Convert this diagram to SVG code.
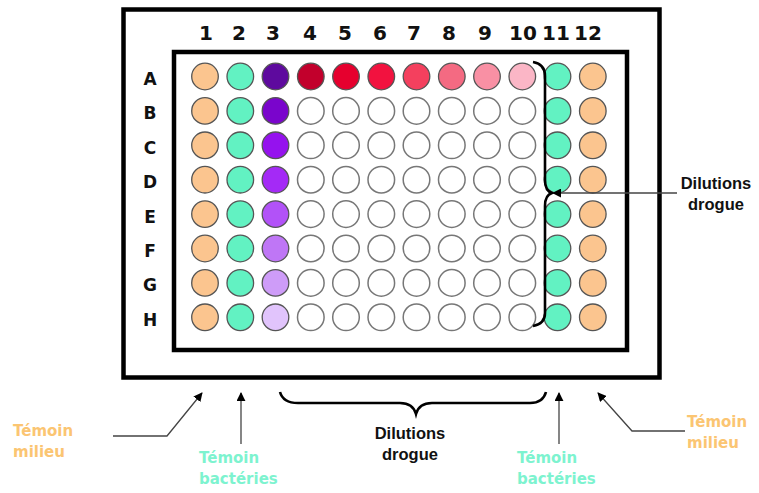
<svg xmlns="http://www.w3.org/2000/svg" width="759" height="493" viewBox="0 0 759 493">
<style>
.frame{fill:none;stroke:#000;stroke-width:4.5}
.lbl{font-family:"DejaVu Sans",Verdana,sans-serif;font-weight:bold;fill:#111;text-anchor:middle}
.num{font-size:20px}
.row{font-size:17px}
.w{stroke:#555;stroke-width:1.3}
.e{fill:#fff;stroke:#777;stroke-width:1.5}
.m{fill:#FBC58F}
.b{fill:#62F2C2}
.ann{font-family:"Liberation Sans",Arial,sans-serif;font-weight:bold;font-size:16.5px;fill:#111;text-anchor:middle}
.tm{font-family:"DejaVu Sans",Verdana,sans-serif;font-weight:bold;font-size:15px;fill:#FBC572}
.tb{font-family:"DejaVu Sans",Verdana,sans-serif;font-weight:bold;font-size:15px;fill:#7DF3CF}
.ln{fill:none;stroke:#444;stroke-width:1.3}
.br{fill:none;stroke:#000;stroke-width:2.6}
</style>
<defs>
<marker id="ah" viewBox="0 0 10 10" refX="9" refY="5" markerWidth="9" markerHeight="9" markerUnits="userSpaceOnUse" orient="auto">
<path d="M0,0 L10,5 L0,10 z" fill="#000"/>
</marker>
</defs>
<g id="plate">
<rect class="frame" x="123.5" y="9.5" width="536" height="368"/>
<rect class="frame" x="174" y="52" width="453" height="298"/>
</g>
<g id="col-labels" class="lbl num">
<text x="206" y="40">1</text><text x="239" y="40">2</text><text x="273" y="40">3</text><text x="310" y="40">4</text><text x="345" y="40">5</text><text x="380" y="40">6</text><text x="414" y="40">7</text><text x="449" y="40">8</text><text x="485" y="40">9</text><text x="523" y="40">10</text><text x="556" y="40">11</text><text x="588" y="40">12</text>
</g>
<g id="row-labels" class="lbl row">
<text x="150" y="85">A</text><text x="150" y="119.4">B</text><text x="150" y="153.8">C</text><text x="150" y="188.2">D</text><text x="150" y="222.6">E</text><text x="150" y="257">F</text><text x="150" y="291.4">G</text><text x="150" y="325.8">H</text>
</g>
<g id="col1-medium">
<circle class="w m" cx="205" cy="76.5" r="13.3"/><circle class="w m" cx="205" cy="110.9" r="13.3"/><circle class="w m" cx="205" cy="145.3" r="13.3"/><circle class="w m" cx="205" cy="179.7" r="13.3"/><circle class="w m" cx="205" cy="214.1" r="13.3"/><circle class="w m" cx="205" cy="248.5" r="13.3"/><circle class="w m" cx="205" cy="282.9" r="13.3"/><circle class="w m" cx="205" cy="317.3" r="13.3"/>
</g>
<g id="col2-bacteria">
<circle class="w b" cx="240.3" cy="76.5" r="13.3"/><circle class="w b" cx="240.3" cy="110.9" r="13.3"/><circle class="w b" cx="240.3" cy="145.3" r="13.3"/><circle class="w b" cx="240.3" cy="179.7" r="13.3"/><circle class="w b" cx="240.3" cy="214.1" r="13.3"/><circle class="w b" cx="240.3" cy="248.5" r="13.3"/><circle class="w b" cx="240.3" cy="282.9" r="13.3"/><circle class="w b" cx="240.3" cy="317.3" r="13.3"/>
</g>
<g id="col3-purple">
<circle class="w" fill="#5E0A9E" cx="275.5" cy="76.5" r="13.3"/><circle class="w" fill="#7A05CC" cx="275.5" cy="110.9" r="13.3"/><circle class="w" fill="#9512EE" cx="275.5" cy="145.3" r="13.3"/><circle class="w" fill="#A42AF6" cx="275.5" cy="179.7" r="13.3"/><circle class="w" fill="#B252F8" cx="275.5" cy="214.1" r="13.3"/><circle class="w" fill="#BF76F6" cx="275.5" cy="248.5" r="13.3"/><circle class="w" fill="#CE9CF8" cx="275.5" cy="282.9" r="13.3"/><circle class="w" fill="#E1C4FC" cx="275.5" cy="317.3" r="13.3"/>
</g>
<g id="rowA-red">
<circle class="w" fill="#C2002C" cx="310.8" cy="76.5" r="13.3"/><circle class="w" fill="#E6002E" cx="346" cy="76.5" r="13.3"/><circle class="w" fill="#F2123F" cx="381.3" cy="76.5" r="13.3"/><circle class="w" fill="#F4405E" cx="416.5" cy="76.5" r="13.3"/><circle class="w" fill="#F46A82" cx="451.8" cy="76.5" r="13.3"/><circle class="w" fill="#F990A4" cx="487" cy="76.5" r="13.3"/><circle class="w" fill="#FBB6C6" cx="522.3" cy="76.5" r="13.3"/>
</g>
<g id="empty-wells">
<circle class="e" cx="310.8" cy="110.9" r="13.3"/><circle class="e" cx="346" cy="110.9" r="13.3"/><circle class="e" cx="381.3" cy="110.9" r="13.3"/><circle class="e" cx="416.5" cy="110.9" r="13.3"/><circle class="e" cx="451.8" cy="110.9" r="13.3"/><circle class="e" cx="487" cy="110.9" r="13.3"/><circle class="e" cx="522.3" cy="110.9" r="13.3"/>
<circle class="e" cx="310.8" cy="145.3" r="13.3"/><circle class="e" cx="346" cy="145.3" r="13.3"/><circle class="e" cx="381.3" cy="145.3" r="13.3"/><circle class="e" cx="416.5" cy="145.3" r="13.3"/><circle class="e" cx="451.8" cy="145.3" r="13.3"/><circle class="e" cx="487" cy="145.3" r="13.3"/><circle class="e" cx="522.3" cy="145.3" r="13.3"/>
<circle class="e" cx="310.8" cy="179.7" r="13.3"/><circle class="e" cx="346" cy="179.7" r="13.3"/><circle class="e" cx="381.3" cy="179.7" r="13.3"/><circle class="e" cx="416.5" cy="179.7" r="13.3"/><circle class="e" cx="451.8" cy="179.7" r="13.3"/><circle class="e" cx="487" cy="179.7" r="13.3"/><circle class="e" cx="522.3" cy="179.7" r="13.3"/>
<circle class="e" cx="310.8" cy="214.1" r="13.3"/><circle class="e" cx="346" cy="214.1" r="13.3"/><circle class="e" cx="381.3" cy="214.1" r="13.3"/><circle class="e" cx="416.5" cy="214.1" r="13.3"/><circle class="e" cx="451.8" cy="214.1" r="13.3"/><circle class="e" cx="487" cy="214.1" r="13.3"/><circle class="e" cx="522.3" cy="214.1" r="13.3"/>
<circle class="e" cx="310.8" cy="248.5" r="13.3"/><circle class="e" cx="346" cy="248.5" r="13.3"/><circle class="e" cx="381.3" cy="248.5" r="13.3"/><circle class="e" cx="416.5" cy="248.5" r="13.3"/><circle class="e" cx="451.8" cy="248.5" r="13.3"/><circle class="e" cx="487" cy="248.5" r="13.3"/><circle class="e" cx="522.3" cy="248.5" r="13.3"/>
<circle class="e" cx="310.8" cy="282.9" r="13.3"/><circle class="e" cx="346" cy="282.9" r="13.3"/><circle class="e" cx="381.3" cy="282.9" r="13.3"/><circle class="e" cx="416.5" cy="282.9" r="13.3"/><circle class="e" cx="451.8" cy="282.9" r="13.3"/><circle class="e" cx="487" cy="282.9" r="13.3"/><circle class="e" cx="522.3" cy="282.9" r="13.3"/>
<circle class="e" cx="310.8" cy="317.3" r="13.3"/><circle class="e" cx="346" cy="317.3" r="13.3"/><circle class="e" cx="381.3" cy="317.3" r="13.3"/><circle class="e" cx="416.5" cy="317.3" r="13.3"/><circle class="e" cx="451.8" cy="317.3" r="13.3"/><circle class="e" cx="487" cy="317.3" r="13.3"/><circle class="e" cx="522.3" cy="317.3" r="13.3"/>
</g>
<g id="col11-bacteria">
<circle class="w b" cx="557.5" cy="76.5" r="13.3"/><circle class="w b" cx="557.5" cy="110.9" r="13.3"/><circle class="w b" cx="557.5" cy="145.3" r="13.3"/><circle class="w b" cx="557.5" cy="179.7" r="13.3"/><circle class="w b" cx="557.5" cy="214.1" r="13.3"/><circle class="w b" cx="557.5" cy="248.5" r="13.3"/><circle class="w b" cx="557.5" cy="282.9" r="13.3"/><circle class="w b" cx="557.5" cy="317.3" r="13.3"/>
</g>
<g id="col12-medium">
<circle class="w m" cx="592.8" cy="76.5" r="13.3"/><circle class="w m" cx="592.8" cy="110.9" r="13.3"/><circle class="w m" cx="592.8" cy="145.3" r="13.3"/><circle class="w m" cx="592.8" cy="179.7" r="13.3"/><circle class="w m" cx="592.8" cy="214.1" r="13.3"/><circle class="w m" cx="592.8" cy="248.5" r="13.3"/><circle class="w m" cx="592.8" cy="282.9" r="13.3"/><circle class="w m" cx="592.8" cy="317.3" r="13.3"/>
</g>
<g id="braces">
<path class="br" d="M533,62 Q545,64 545,76 L545,180 Q545,191 552,193 Q545,195 545,206 L545,313 Q545,324 533,326"/>
<path class="br" d="M280,392 Q283,403 298,403 L400,403 Q413,403 416,414 Q419,403 432,403 L530,403 Q543,403 546,392"/>
</g>
<g id="connectors">
<path class="ln" d="M677,193 L553,193" marker-end="url(#ah)"/>
<path class="ln" d="M113,436 L167,436 L202,393" marker-end="url(#ah)"/>
<path class="ln" d="M241,444 L241,393" marker-end="url(#ah)"/>
<path class="ln" d="M559,444 L559,393" marker-end="url(#ah)"/>
<path class="ln" d="M685,431 L632,431 L598,393" marker-end="url(#ah)"/>
</g>
<g id="label-dilutions-right" class="ann">
<text x="716" y="189">Dilutions</text><text x="716" y="210">drogue</text>
</g>
<g id="label-dilutions-bottom" class="ann">
<text x="410" y="439">Dilutions</text><text x="410" y="460">drogue</text>
</g>
<g id="label-milieu-left" class="tm">
<text x="13" y="436">Témoin</text><text x="13" y="457">milieu</text>
</g>
<g id="label-bact-left" class="tb">
<text x="199" y="463">Témoin</text><text x="199" y="484">bactéries</text>
</g>
<g id="label-bact-right" class="tb">
<text x="517" y="463">Témoin</text><text x="517" y="484">bactéries</text>
</g>
<g id="label-milieu-right" class="tm">
<text x="687" y="427">Témoin</text><text x="687" y="448">milieu</text>
</g>
</svg>
